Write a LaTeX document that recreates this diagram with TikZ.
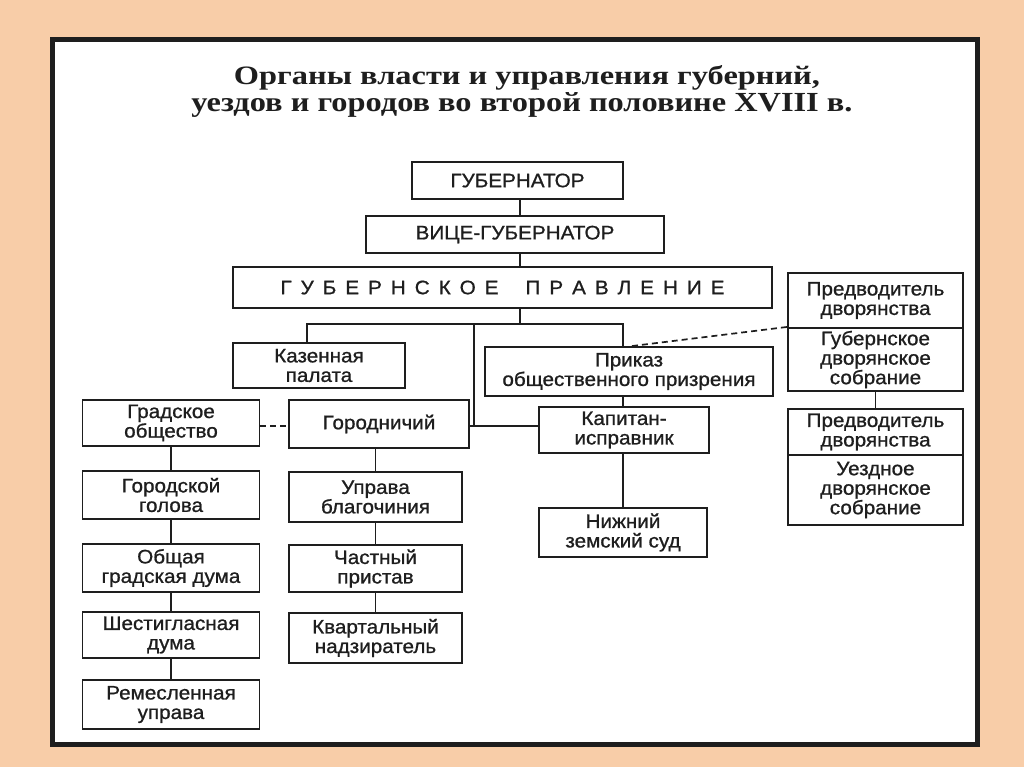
\documentclass[tikz,border=0pt]{standalone}
\usepackage{fontspec}
\usepackage{graphicx}
\setmainfont{Liberation Serif}
\newfontfamily\boxfont{Liberation Sans}[FakeStretch=1.06,FakeBold=0.9]
\definecolor{peach}{HTML}{F8CDA8}
\definecolor{ink}{HTML}{1E1E1E}
\begin{document}
\begin{tikzpicture}[x=1pt,y=-1pt,
  box/.style={draw=ink, line width=1.9pt, fill=white, inner sep=0pt, align=center,
    font=\boxfont\fontsize{19.5}{19.5}\selectfont, text=ink},
  link/.style={draw=ink, line width=1.9pt},
  dashlink/.style={draw=ink, line width=1.7pt, dash pattern=on 6pt off 4pt},
  titletext/.style={anchor=base, inner sep=0pt, font=\bfseries, text=ink}]
\useasboundingbox (0,0) rectangle (1024,767);
\fill[peach] (0,0) rectangle (1024,767);
\fill[white] (52,39) rectangle (977,745);
\draw[line width=5pt, draw=ink] (52.5,39.5) rectangle (977,744.5);

% title
\node[titletext] (t1) at (527,85) {\resizebox{586pt}{19pt}{Органы власти и управления губерний,}};
\node[titletext] (t2) at (522,112) {\resizebox{661pt}{19pt}{уездов и городов во второй половине XVIII в.}};

% top chain
\node[box, minimum width=211pt, minimum height=37pt] (gub) at (517.5,180.5) {ГУБЕРНАТОР};
\node[box, minimum width=298pt, minimum height=37pt] (vice) at (515,234.5) {ВИЦЕ-ГУБЕРНАТОР};
\node[box, minimum width=539pt, minimum height=41pt] (pravl) at (502.5,287.5)
  {\makebox[444pt][s]{Г\hfil У\hfil Б\hfil Е\hfil Р\hfil Н\hfil С\hfil К\hfil О\hfil Е\hfil\hfil\hfil П\hfil Р\hfil А\hfil В\hfil Л\hfil Е\hfil Н\hfil И\hfil Е}};

% second level
\node[box, minimum width=172pt, minimum height=45pt] (kaz) at (319,365.5) {Казенная\\палата};
\node[box, minimum width=288pt, minimum height=49pt] (prikaz) at (629,371.5) {Приказ\\общественного призрения};

% right column
\node[box, minimum width=175pt, minimum height=55pt] (pred1) at (875.5,300.5) {Предводитель\\дворянства};
\node[box, minimum width=175pt, minimum height=63pt] (gubsobr) at (875.5,359.5) {Губернское\\дворянское\\собрание};
\node[box, minimum width=175pt, minimum height=46pt] (pred2) at (875.5,432) {Предводитель\\дворянства};
\node[box, minimum width=175pt, minimum height=70pt] (uezd) at (875.5,490) {Уездное\\дворянское\\собрание};

% city level
\node[box, minimum width=177pt, minimum height=46pt] (grad) at (171,423) {Градское\\общество};
\node[box, minimum width=180pt, minimum height=48pt] (gorod) at (379,424) {Городничий};
\node[box, minimum width=170pt, minimum height=46pt] (kapitan) at (624,430) {Капитан-\\исправник};
\node[box, minimum width=168pt, minimum height=49pt] (nizh) at (623,532.5) {Нижний\\земский суд};

% left column
\node[box, minimum width=177pt, minimum height=48pt] (golova) at (171,495) {Городской\\голова};
\node[box, minimum width=177pt, minimum height=48pt] (obsh) at (171,568) {Общая\\градская дума};
\node[box, minimum width=177pt, minimum height=46pt] (shest) at (171,635) {Шестигласная\\дума};
\node[box, minimum width=177pt, minimum height=49pt] (remes) at (171,704.5) {Ремесленная\\управа};

% gorodnichiy column
\node[box, minimum width=173pt, minimum height=50pt] (uprava) at (375.5,497) {Управа\\благочиния};
\node[box, minimum width=173pt, minimum height=47pt] (chast) at (375.5,568.5) {Частный\\пристав};
\node[box, minimum width=173pt, minimum height=50pt] (kvart) at (375.5,638) {Квартальный\\надзиратель};

% junctions
\coordinate (J) at (520,324);
\coordinate (JL) at (307,324);
\coordinate (JR) at (623,324);
\coordinate (JM) at (474,324);
\coordinate (JK) at (474,426);
\coordinate (D) at (632,0);

% connectors
\draw[link] (gub.south -| J) -- (vice.north -| J);
\draw[link] (vice.south -| J) -- (pravl.north -| J);
\draw[link] (pravl.south -| J) -- (J);
\draw[link] (kaz.north -| JL) -- (JL) -- (JR) -- (prikaz.north -| JR);
\draw[link] (JM) -- (JK);
\draw[link] (gorod.east |- JK) -- (kapitan.west |- JK);
\draw[link] (prikaz.south -| JR) -- (kapitan.north -| JR);
\draw[link] (kapitan.south -| JR) -- (nizh.north -| JR);
\draw[dashlink] (prikaz.north -| D) -- ([yshift=2pt]pred1.south west);
\draw[dashlink] (grad.east |- JK) -- (gorod.west |- JK);
\draw[link] (grad.south) -- (golova.north);
\draw[link] (golova.south) -- (obsh.north);
\draw[link] (obsh.south) -- (shest.north);
\draw[link] (shest.south) -- (remes.north);
\draw[link] (gorod.south -| uprava.north) -- (uprava.north);
\draw[link] (uprava.south) -- (chast.north);
\draw[link] (chast.south) -- (kvart.north);
\draw[link] (gubsobr.south) -- (pred2.north);
\end{tikzpicture}
\end{document}
